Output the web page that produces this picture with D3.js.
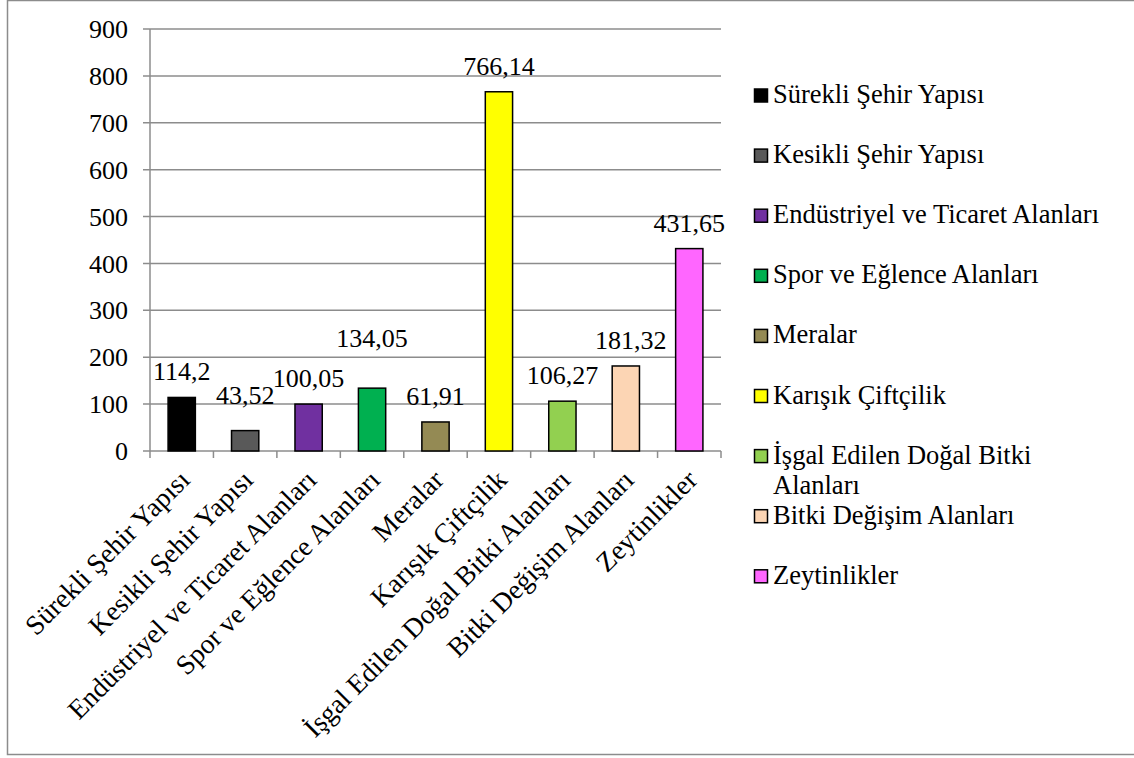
<!DOCTYPE html>
<html>
<head>
<meta charset="utf-8">
<script src="https://cdn.jsdelivr.net/npm/d3@7"></script>
<style>
  body { margin: 0; background: #fff; }
  text { font-family: "Liberation Serif", "Times New Roman", Times, serif; fill: #000; }
</style>
</head>
<body>
<div id="chart"></div>
<script>
const WIDTH = 1134;
const HEIGHT = 758;
const PLOT = { TOP: 29, BOTTOM: 451, LEFT: 150, RIGHT: 721 };

// data
const categories = [
  'Sürekli Şehir Yapısı',
  'Kesikli Şehir Yapısı',
  'Endüstriyel ve Ticaret Alanları',
  'Spor ve Eğlence Alanları',
  'Meralar',
  'Karışık Çiftçilik',
  'İşgal Edilen Doğal Bitki Alanları',
  'Bitki Değişim Alanları',
  'Zeytinlikler'
];
const values = [114.2, 43.52, 100.05, 134.05, 61.91, 766.14, 106.27, 181.32, 431.65];
const valueLabels = ['114,2', '43,52', '100,05', '134,05', '61,91', '766,14', '106,27', '181,32', '431,65'];
const colors = ['#000000', '#595959', '#7030A0', '#00B050', '#948A54', '#FFFF00', '#92D050', '#FCD5B4', '#FF66FF'];
const yTicks = [0, 100, 200, 300, 400, 500, 600, 700, 800, 900];

// label placement tweaks (Excel moved some to avoid overlap)
const labelNudge = [[0, 0], [0, -10], [0, 0], [0, -24], [0, 0], [0, 0], [0, 0], [5, 0], [0, 0]];

const svg = d3.select('#chart')
  .append('svg')
    .attr('width', WIDTH)
    .attr('height', HEIGHT);

// outer frame
svg.append('rect')
  .attr('x', 7.5).attr('y', 0.5)
  .attr('width', 1140).attr('height', 754)
  .attr('fill', 'none')
  .attr('stroke', '#8c8c8c')
  .attr('stroke-width', 1.5);

const x = d3.scaleBand()
  .domain(categories)
  .range([PLOT.LEFT, PLOT.RIGHT])
  .padding(0);

const y = d3.scaleLinear()
  .domain([0, 900])
  .range([PLOT.BOTTOM, PLOT.TOP]);

const barW = x.bandwidth() * 0.43;

// gridlines + y labels
const yAxis = svg.append('g');
yAxis.selectAll('line.grid')
  .data(yTicks)
  .enter().append('line')
    .attr('x1', PLOT.LEFT - 7)
    .attr('x2', PLOT.RIGHT)
    .attr('y1', d => y(d))
    .attr('y2', d => y(d))
    .attr('stroke', '#8c8c8c')
    .attr('stroke-width', 1.5);

yAxis.selectAll('text')
  .data(yTicks)
  .enter().append('text')
    .attr('x', 128)
    .attr('y', d => y(d))
    .attr('dy', '0.35em')
    .attr('text-anchor', 'end')
    .style('font-size', '26px')
    .text(d => d);

// y axis line
svg.append('line')
  .attr('x1', PLOT.LEFT).attr('x2', PLOT.LEFT)
  .attr('y1', PLOT.TOP).attr('y2', PLOT.BOTTOM)
  .attr('stroke', '#8c8c8c')
  .attr('stroke-width', 1.5);

// x tick marks at band edges
const edges = categories.map(c => x(c)).concat([PLOT.RIGHT]);
svg.append('g').selectAll('line')
  .data(edges)
  .enter().append('line')
    .attr('x1', d => d).attr('x2', d => d)
    .attr('y1', PLOT.BOTTOM).attr('y2', PLOT.BOTTOM + 7)
    .attr('stroke', '#8c8c8c')
    .attr('stroke-width', 1.5);

// bars
svg.append('g').selectAll('rect')
  .data(values)
  .enter().append('rect')
    .attr('x', (d, i) => x(categories[i]) + x.bandwidth() / 2 - barW / 2)
    .attr('y', d => y(d))
    .attr('width', barW)
    .attr('height', d => y(0) - y(d))
    .attr('fill', (d, i) => colors[i])
    .attr('stroke', '#000')
    .attr('stroke-width', 1.5);

// value labels
svg.append('g').selectAll('text')
  .data(values)
  .enter().append('text')
    .attr('x', (d, i) => x(categories[i]) + x.bandwidth() / 2 + labelNudge[i][0])
    .attr('y', (d, i) => y(d) - 17 + labelNudge[i][1])
    .attr('text-anchor', 'middle')
    .style('font-size', '26px')
    .text((d, i) => valueLabels[i]);

// rotated category labels
svg.append('g').selectAll('text')
  .data(categories)
  .enter().append('text')
    .attr('transform', d => `translate(${x(d) + x.bandwidth() / 2 - 4}, ${PLOT.BOTTOM + 17}) rotate(-45)`)
    .attr('text-anchor', 'end')
    .attr('dy', '0.7em')
    .style('font-size', '27.5px')
    .text(d => d);

// legend
const legend = svg.append('g');
const rowGap = 60.1;
categories.forEach((c, i) => {
  const base = 103 + i * rowGap;
  legend.append('rect')
    .attr('x', 754.5).attr('y', base - 14)
    .attr('width', 13).attr('height', 13)
    .attr('fill', colors[i])
    .attr('stroke', '#000')
    .attr('stroke-width', 1.5);

  const t = legend.append('text')
    .attr('x', 773)
    .attr('y', base)
    .style('font-size', '26.5px');

  // wrap long entries
  const words = c.split(' ');
  let line = [];
  let tspan = t.append('tspan').attr('x', 773);
  words.forEach(w => {
    line.push(w);
    tspan.text(line.join(' '));
    if (tspan.node().getComputedTextLength() > 335 && line.length > 1) {
      line.pop();
      tspan.text(line.join(' '));
      line = [w];
      tspan = t.append('tspan').attr('x', 773).attr('dy', 30).text(w);
    }
  });
});
</script>
</body>
</html>
